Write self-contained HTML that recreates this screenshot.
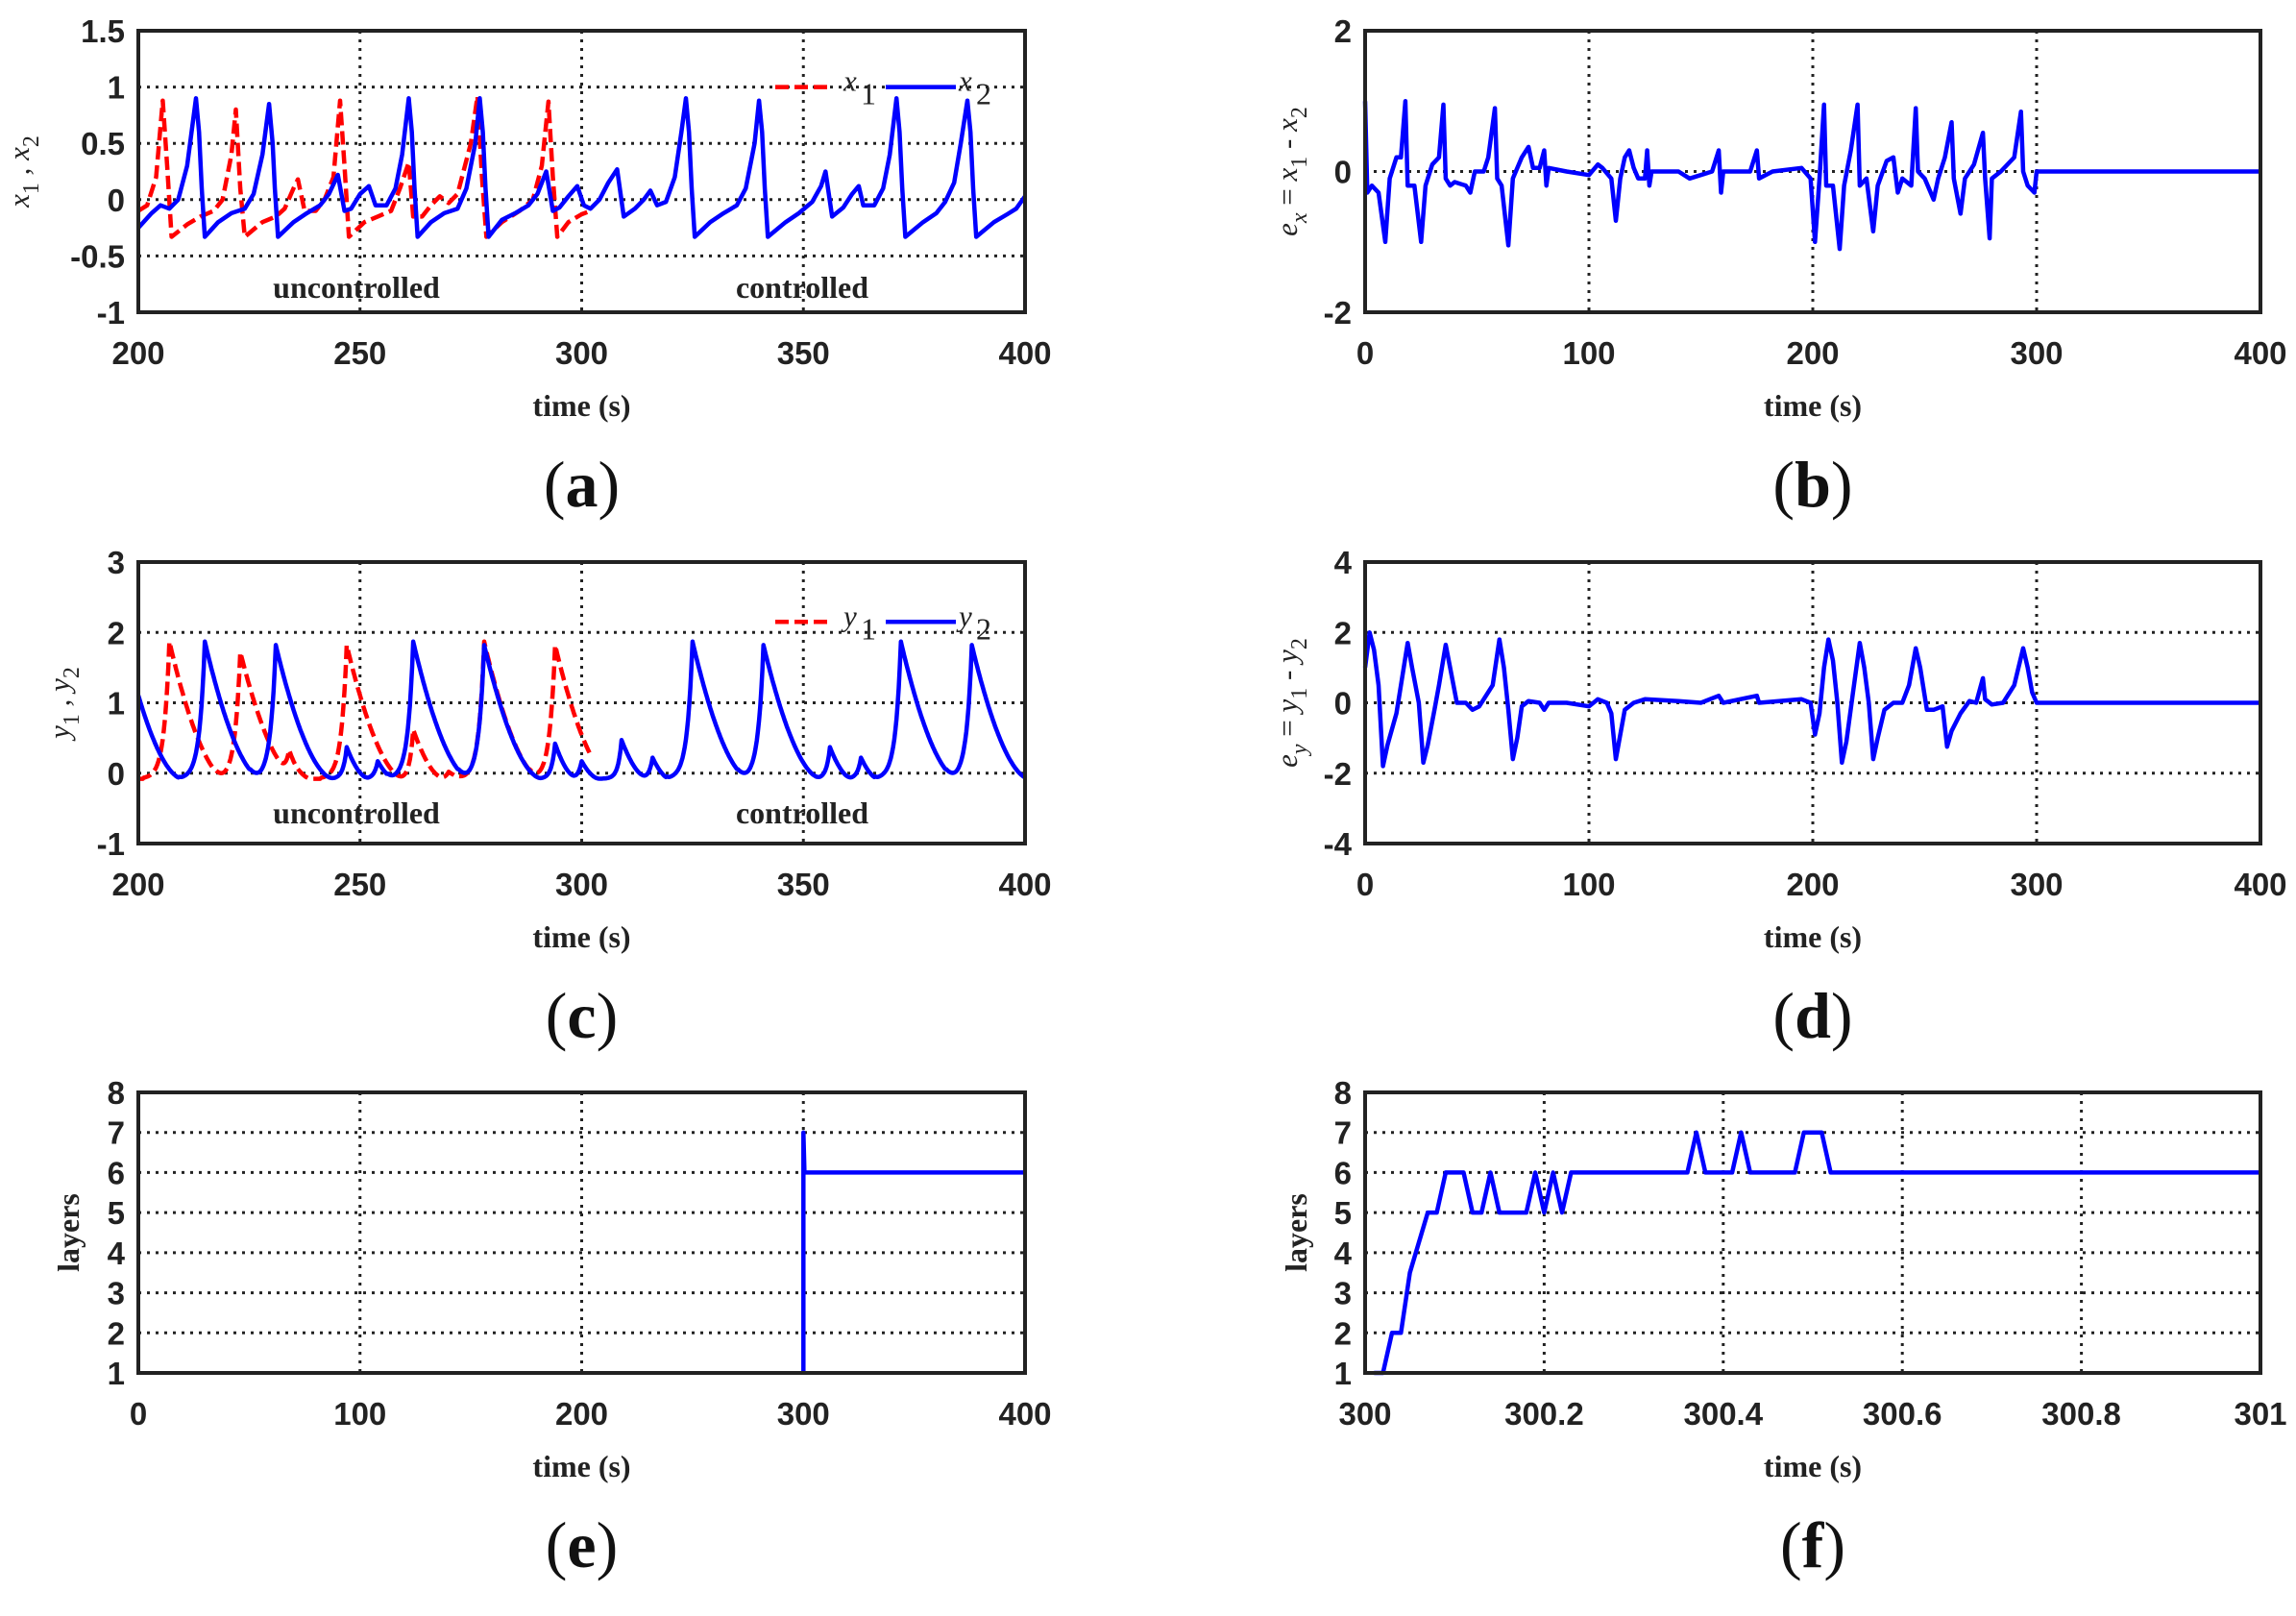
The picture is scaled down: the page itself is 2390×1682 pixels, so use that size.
<!DOCTYPE html>
<html><head><meta charset="utf-8"><style>
html,body{margin:0;padding:0;background:#fff;}
svg{display:block;}
.tk{font-family:"Liberation Sans",sans-serif;font-weight:bold;font-size:33px;fill:#222;}
.lb{font-family:"Liberation Serif",serif;font-weight:bold;font-size:32px;fill:#222;}
.pl{font-family:"Liberation Serif",serif;font-size:68px;fill:#111;}
.it{font-family:"Liberation Serif",serif;font-style:italic;font-size:31px;fill:#222;}
</style></head><body>
<svg id="s" width="2390" height="1682" xmlns="http://www.w3.org/2000/svg"></svg>
<script>
const S=document.getElementById('s');let h='';
function panel(c){
 const X=v=>c.x0+(v-c.xmin)/(c.xmax-c.xmin)*(c.x1-c.x0);
 const Y=v=>c.y1-(v-c.ymin)/(c.ymax-c.ymin)*(c.y1-c.y0);
 c.xg.forEach(v=>h+=`<line x1="${X(v)}" y1="${c.y0}" x2="${X(v)}" y2="${c.y1}" stroke="#222" stroke-width="3" stroke-dasharray="3 6"/>`);
 c.yg.forEach(v=>h+=`<line x1="${c.x0}" y1="${Y(v)}" x2="${c.x1}" y2="${Y(v)}" stroke="#222" stroke-width="3" stroke-dasharray="3 6"/>`);
 (c.series||[]).forEach(s=>{let d='';s.pts.forEach((p,i)=>{d+=(i?'L':'M')+X(p[0]).toFixed(1)+','+Y(p[1]).toFixed(1);});
  h+=`<path d="${d}" fill="none" stroke="${s.col}" stroke-width="4.5" stroke-linejoin="round" ${s.dash?'stroke-dasharray="14 6"':''}/>`;});
 h+=`<rect x="${c.x0}" y="${c.y0}" width="${c.x1-c.x0}" height="${c.y1-c.y0}" fill="none" stroke="#222" stroke-width="4"/>`;
 c.xt.forEach(v=>h+=`<text class="tk" x="${X(v)}" y="${c.y1+54}" text-anchor="middle">${c.xf?c.xf(v):v}</text>`);
 c.yt.forEach(v=>h+=`<text class="tk" x="${c.x0-14}" y="${Y(v)+12}" text-anchor="end">${v}</text>`);
 const cx=(c.x0+c.x1)/2;
 h+=`<text class="lb" x="${cx}" y="${c.y1+108}" text-anchor="middle">time (s)</text>`;
 h+=`<text class="pl" x="${cx}" y="${c.y1+202}" text-anchor="middle">(<tspan font-weight="bold">${c.L}</tspan>)</text>`;
 h+=`<g transform="translate(${c.ylx},${(c.y0+c.y1)/2}) rotate(-90)">${c.yl}</g>`;
 if(c.extra)c.extra(X,Y);
}
const LX0=144,LX1=1067,RX0=1421,RX1=2353;
const R=[[32,325],[585,878],[1137,1429]];
const x2=[[200,-0.25],[203,-0.12],[205,-0.05],[207,-0.08],[209,0],[211,0.3],[212.5,0.75],[213,0.9],[213.7,0.6],[214.3,0.1],[215,-0.33],[218,-0.2],[221,-0.12],[224,-0.08],[226,0.05],[228,0.4],[229.5,0.85],[230.3,0.5],[230.8,0.1],[231.5,-0.33],[235,-0.2],[238,-0.12],[241,-0.05],[243,0.05],[245,0.22],[246.5,-0.1],[248,-0.08],[250,0.05],[252,0.12],[253.5,-0.05],[256,-0.05],[258,0.1],[259.5,0.4],[261,0.9],[261.7,0.6],[262.3,0.1],[263,-0.33],[266,-0.2],[269,-0.12],[272,-0.08],[274,0.1],[276,0.5],[277,0.9],[277.7,0.6],[278.3,0.1],[279,-0.33],[282,-0.18],[285,-0.12],[288,-0.05],[290,0.05],[292,0.25],[293.5,-0.1],[295,-0.07],[297,0.03],[299,0.12],[300.5,-0.05],[302,-0.08],[304,0],[306,0.15],[308,0.27],[309.5,-0.15],[312,-0.08],[314,0.0],[315.5,0.08],[317,-0.05],[319,-0.02],[321,0.2],[322.5,0.6],[323.5,0.9],[324.2,0.6],[324.8,0.1],[325.5,-0.33],[329,-0.2],[332,-0.12],[335,-0.05],[337,0.1],[339,0.5],[340,0.88],[340.7,0.6],[341.3,0.1],[342,-0.33],[346,-0.2],[349,-0.12],[352,-0.02],[354,0.12],[355,0.25],[356.5,-0.15],[359,-0.07],[361,0.05],[362.5,0.12],[363.5,-0.05],[366,-0.05],[368,0.1],[369.5,0.4],[371,0.9],[371.7,0.6],[372.3,0.1],[373,-0.33],[377,-0.2],[380,-0.12],[382,-0.02],[384,0.15],[385.5,0.5],[387,0.88],[387.7,0.6],[388.3,0.1],[389,-0.33],[393,-0.2],[396,-0.13],[398,-0.08],[400,0.03]];
const x1=[[200,-0.1],[202,-0.05],[204,0.2],[205.5,0.88],[206.5,0.3],[207.5,-0.33],[211,-0.22],[214,-0.15],[217,-0.1],[219,0],[221,0.4],[222,0.8],[223,0.1],[224,-0.33],[228,-0.2],[231,-0.15],[233,-0.08],[235,0.1],[236,0.18],[237.5,-0.1],[240,-0.1],[242,0],[244,0.2],[245.5,0.88],[246.5,0.3],[247.5,-0.33],[251,-0.2],[254,-0.15],[257,-0.1],[259,0.1],[261,0.33],[262,-0.15],[264,-0.15],[266,-0.05],[268,0.03],[270,-0.03],[272,0.05],[275,0.5],[276.5,0.92],[277.5,0.2],[278.5,-0.33],[282,-0.2],[286,-0.1],[289,0],[291,0.3],[292.5,0.87],[293.5,0.2],[294.5,-0.33],[297,-0.2],[300,-0.13],[302,-0.1]];
function legend(X,Y,n,lv){const y=Y(lv);
 h+=`<line x1="807" y1="${y}" x2="867" y2="${y}" stroke="#f00" stroke-width="4.5" stroke-dasharray="14 6"/>`;
 h+=`<text class="it" x="878" y="${y+4}" font-size="34">${n}</text><text class="lb" style="font-weight:normal" x="896" y="${y+18}" font-size="24">1</text>`;
 h+=`<line x1="922" y1="${y}" x2="995" y2="${y}" stroke="#00f" stroke-width="4.5"/>`;
 h+=`<text class="it" x="998" y="${y+4}" font-size="34">${n}</text><text class="lb" style="font-weight:normal" x="1016" y="${y+18}" font-size="24">2</text>`;}
function ctext(X,Y,yb){h+=`<text class="lb" x="371" y="${yb}" text-anchor="middle" font-size="35">uncontrolled</text><text class="lb" x="835" y="${yb}" text-anchor="middle" font-size="35">controlled</text>`;}
panel({x0:LX0,x1:LX1,y0:R[0][0],y1:R[0][1],xmin:200,xmax:400,ymin:-1,ymax:1.5,xg:[250,300,350],yg:[-0.5,0,0.5,1],xt:[200,250,300,350,400],yt:[1.5,1,0.5,0,-0.5,-1],L:'a',ylx:30,
 yl:`<text class="it" x="0" y="0" text-anchor="middle" font-size="32">x<tspan font-style="normal" font-size="24" dy="10">1</tspan><tspan dy="-10"> , x</tspan><tspan font-style="normal" font-size="24" dy="10">2</tspan></text>`,
 series:[{pts:x1,col:'#f00',dash:1},{pts:x2,col:'#00f'}],extra:(X,Y)=>{legend(X,Y,'x',1);ctext(X,Y,310);}});
const ex=[[0,1],[1,-0.3],[3,-0.2],[6,-0.3],[9,-1],[11,-0.1],[14,0.2],[16,0.2],[18,1.0],[19,-0.2],[22,-0.2],[25,-1],[27,-0.2],[30,0.1],[33,0.2],[35,0.95],[36,-0.1],[38,-0.2],[40,-0.15],[45,-0.2],[47,-0.3],[49,0],[53,0],[55,0.2],[58,0.9],[59,-0.1],[61,-0.2],[64,-1.05],[66,-0.1],[70,0.2],[73,0.35],[75,0.05],[78,0.05],[80,0.3],[81,-0.2],[82,0.05],[90,0],[100,-0.05],[104,0.1],[106,0.05],[110,-0.1],[112,-0.7],[114,-0.1],[116,0.2],[118,0.3],[120,0.05],[122,-0.1],[125,-0.1],[126,0.3],[127,-0.2],[128,0.0],[140,0],[145,-0.1],[155,0],[158,0.3],[159,-0.3],[160,0],[172,0],[175,0.3],[176,-0.1],[182,0],[195,0.05],[199,-0.1],[201,-1.0],[203,-0.1],[205,0.95],[206,-0.2],[209,-0.2],[212,-1.1],[214,-0.2],[217,0.3],[220,0.95],[221,-0.2],[224,-0.1],[227,-0.85],[229,-0.2],[233,0.15],[236,0.2],[238,-0.3],[240,-0.1],[244,-0.2],[246,0.9],[247,0],[250,-0.1],[254,-0.4],[256,-0.1],[259,0.2],[262,0.7],[263,-0.1],[266,-0.6],[268,-0.1],[272,0.1],[276,0.55],[277,-0.1],[279,-0.95],[280,-0.1],[284,0],[290,0.2],[293,0.85],[294,0],[296,-0.2],[299,-0.3],[300,0],[303,0],[400,0]];
panel({x0:RX0,x1:RX1,y0:R[0][0],y1:R[0][1],xmin:0,xmax:400,ymin:-2,ymax:2,xg:[100,200,300],yg:[0],xt:[0,100,200,300,400],yt:[2,0,-2],L:'b',ylx:1350,
 yl:`<text class="it" x="0" y="0" text-anchor="middle" font-size="32">e<tspan font-size="24" dy="10">x</tspan><tspan font-style="normal" dy="-10"> = </tspan>x<tspan font-style="normal" font-size="24" dy="10">1</tspan><tspan font-style="normal" dy="-10"> - </tspan>x<tspan font-style="normal" font-size="24" dy="10">2</tspan></text>`,
 series:[{pts:ex,col:'#00f'}]});
function ygen(peaks,t0,t1,base){const p=[];for(let t=t0;t<=t1;t+=0.25){let v=base(t);peaks.forEach(([tp,A,w])=>{w=w||13;const r=A>1?1.2:0.8;if(t<tp)v+=A*Math.exp((t-tp)/r)*(t>tp-6?1:0);else v+=A*Math.pow(Math.max(0,1-(t-tp)/w),1.8);});p.push([t,v]);}return p;}
const bb=t=>-0.08;
const y2=ygen([[197,1.9],[215,1.95],[231,1.9],[247,0.45,5],[254,0.25,4],[262,1.95],[278,1.9],[294,0.5,5],[300,0.25,4],[309,0.55,6],[316,0.3,4],[325,1.95],[341,1.9],[356,0.45,5],[363,0.3,4],[372,1.95],[388,1.9]],200,400,bb);
const y1=ygen([[207,1.95],[223,1.8],[234,0.35,5],[247,1.9],[262,0.7,7],[270,0.1,4],[278,1.95],[294,1.9]],200,302,bb);
panel({x0:LX0,x1:LX1,y0:R[1][0],y1:R[1][1],xmin:200,xmax:400,ymin:-1,ymax:3,xg:[250,300,350],yg:[0,1,2],xt:[200,250,300,350,400],yt:[3,2,1,0,-1],L:'c',ylx:72,
 yl:`<text class="it" x="0" y="0" text-anchor="middle" font-size="32">y<tspan font-style="normal" font-size="24" dy="10">1</tspan><tspan dy="-10"> , y</tspan><tspan font-style="normal" font-size="24" dy="10">2</tspan></text>`,
 series:[{pts:y1,col:'#f00',dash:1},{pts:y2,col:'#00f'}],extra:(X,Y)=>{legend(X,Y,'y',2.15);ctext(X,Y,857);}});
const ey=[[0,1],[2,2],[4,1.5],[6,0.5],[8,-1.8],[10,-1.2],[14,-0.3],[16,0.5],[19,1.7],[21,1],[24,0],[26,-1.7],[28,-1.2],[31,-0.2],[33,0.5],[36,1.65],[38,1],[41,0],[45,0],[48,-0.2],[51,-0.1],[54,0.2],[57,0.5],[60,1.8],[62,1],[64,-0.2],[66,-1.6],[68,-1],[70,-0.1],[73,0.05],[78,0],[80,-0.2],[82,0],[90,0],[100,-0.1],[104,0.1],[108,0],[110,-0.3],[112,-1.6],[116,-0.2],[120,0],[125,0.1],[140,0.05],[150,0],[158,0.2],[160,0],[175,0.2],[176,0],[195,0.1],[199,0],[201,-0.9],[203,-0.3],[205,1],[207,1.8],[209,1.2],[211,0],[213,-1.7],[215,-1.1],[218,0.3],[221,1.7],[223,1],[225,0],[227,-1.6],[229,-1],[232,-0.2],[236,0],[240,0],[243,0.5],[246,1.55],[248,1],[251,-0.2],[254,-0.2],[258,-0.1],[260,-1.25],[262,-0.8],[266,-0.3],[270,0.05],[273,0],[276,0.7],[277,0.1],[280,-0.05],[285,0],[290,0.5],[294,1.55],[296,1],[298,0.3],[300,0],[400,0]];
panel({x0:RX0,x1:RX1,y0:R[1][0],y1:R[1][1],xmin:0,xmax:400,ymin:-4,ymax:4,xg:[100,200,300],yg:[-2,0,2],xt:[0,100,200,300,400],yt:[4,2,0,-2,-4],L:'d',ylx:1350,
 yl:`<text class="it" x="0" y="0" text-anchor="middle" font-size="32">e<tspan font-size="24" dy="10">y</tspan><tspan font-style="normal" dy="-10"> = </tspan>y<tspan font-style="normal" font-size="24" dy="10">1</tspan><tspan font-style="normal" dy="-10"> - </tspan>y<tspan font-style="normal" font-size="24" dy="10">2</tspan></text>`,
 series:[{pts:ey,col:'#00f'}]});
panel({x0:LX0,x1:LX1,y0:R[2][0],y1:R[2][1],xmin:0,xmax:400,ymin:1,ymax:8,xg:[100,200,300],yg:[2,3,4,5,6,7],xt:[0,100,200,300,400],yt:[8,7,6,5,4,3,2,1],L:'e',ylx:82,
 yl:`<text class="lb" x="0" y="0" text-anchor="middle" font-size="34">layers</text>`,
 series:[{pts:[[300,1],[300,7],[300.5,6],[400,6]],col:'#00f'}]});
const lf=[[300.01,1],[300.02,1],[300.03,2],[300.04,2],[300.05,3.5],[300.07,5],[300.08,5],[300.09,6],[300.11,6],[300.12,5],[300.13,5],[300.14,6],[300.15,5],[300.18,5],[300.19,6],[300.2,5],[300.21,6],[300.22,5],[300.23,6],[300.36,6],[300.37,7],[300.38,6],[300.41,6],[300.42,7],[300.43,6],[300.48,6],[300.49,7],[300.51,7],[300.52,6],[301,6]];
panel({x0:RX0,x1:RX1,y0:R[2][0],y1:R[2][1],xmin:300,xmax:301,ymin:1,ymax:8,xg:[300.2,300.4,300.6,300.8],yg:[2,3,4,5,6,7],xt:[300,300.2,300.4,300.6,300.8,301],xf:v=>(Math.round(v*10)/10).toString(),yt:[8,7,6,5,4,3,2,1],L:'f',ylx:1360,
 yl:`<text class="lb" x="0" y="0" text-anchor="middle" font-size="34">layers</text>`,
 series:[{pts:lf,col:'#00f'}]});
S.innerHTML=h;
</script>
</body></html>
